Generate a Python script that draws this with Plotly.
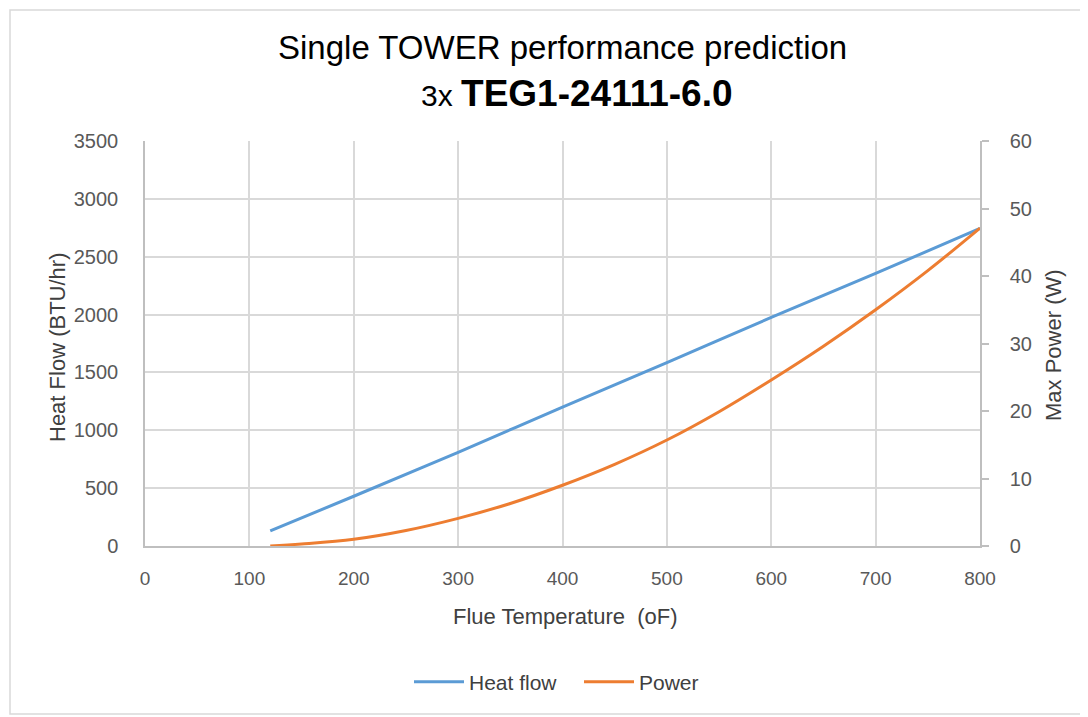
import plotly.graph_objects as go

temp_heat = [120, 200, 300, 400, 500, 600, 700, 800]
heat_flow = [130, 430, 810, 1200, 1585, 1975, 2355, 2745]

temp_power = [120, 150, 200, 250, 300, 350, 400, 450, 500, 550, 600, 650, 700, 750, 800]
power = [0, 0.3, 1.0, 2.3, 4.1, 6.3, 9.0, 12.1, 15.7, 19.9, 24.6, 29.6, 35.0, 40.8, 47.1]

FONT = "Liberation Sans"
TICK_COLOR = "#595959"
TITLE_COLOR = "#404040"

fig = go.Figure()
fig.add_trace(go.Scatter(x=temp_heat, y=heat_flow, name="Heat flow", mode="lines",
                         line=dict(color="#5B9BD5", width=3, shape="spline")))
fig.add_trace(go.Scatter(x=temp_power, y=power, name="Power", mode="lines", yaxis="y2",
                         line=dict(color="#ED7D31", width=3, shape="spline")))

W, H = 1088, 717
O = 8  # page offset of the figure
SL, SR, ST, SB = 145, 980, 141, 546
L = SL - O
T = ST - O
R = W - (SR - O)
B = H - (SB - O)
pw, ph = SR - SL, SB - ST

def px(xs):
    return (xs - SL) / pw

def py(ys):
    return (SB - ys) / ph

fig.update_layout(
    width=W, height=H,
    margin=dict(l=L, r=R, t=T, b=B),
    paper_bgcolor="white", plot_bgcolor="white",
    font=dict(family=FONT, color=TICK_COLOR, size=20),
    showlegend=True,
    legend=dict(orientation="h", x=px(409), xanchor="left", y=py(682), yanchor="middle",
                font=dict(size=21, color=TITLE_COLOR), itemwidth=50, tracegroupgap=0,
                entrywidth=105, entrywidthmode="pixels"),
    xaxis=dict(range=[0, 800], dtick=100, showgrid=True, gridcolor="#d9d9d9", gridwidth=1.5,
               showline=True, linecolor="#bfbfbf", linewidth=1.5, zeroline=False,
               ticks="", tickfont=dict(size=19, color=TICK_COLOR), ticklabelstandoff=14),
    yaxis=dict(range=[0, 3500], dtick=500, showgrid=True, gridcolor="#d9d9d9", gridwidth=1.5,
               showline=True, linecolor="#bfbfbf", linewidth=1.5, zeroline=False,
               ticks="", tickfont=dict(size=20, color=TICK_COLOR), ticklabelstandoff=21),
    yaxis2=dict(range=[0, 60], dtick=10, overlaying="y", side="right", showgrid=False,
                showline=True, linecolor="#bfbfbf", linewidth=1.5, zeroline=False,
                ticks="outside", ticklen=7, tickcolor="#bfbfbf", tickwidth=1.5,
                tickfont=dict(size=20, color=TICK_COLOR), ticklabelstandoff=17),
    annotations=[
        dict(text="Single TOWER performance prediction", xref="paper", yref="paper",
             x=px(562), y=py(47), xanchor="center", yanchor="middle", showarrow=False,
             font=dict(size=33, color="#000000", family=FONT)),
        dict(text="<span style='font-size:30px'>3x </span><b>TEG1-24111-6.0</b>", xref="paper", yref="paper",
             x=px(577), y=py(93), xanchor="center", yanchor="middle", showarrow=False,
             font=dict(size=37, color="#000000", family=FONT)),
        dict(text="Flue Temperature  (oF)", xref="paper", yref="paper",
             x=px(565), y=py(616), xanchor="center", yanchor="middle", showarrow=False,
             font=dict(size=22, color=TITLE_COLOR)),
        dict(text="Heat Flow (BTU/hr)", xref="paper", yref="paper",
             x=px(57), y=py(348), xanchor="center", yanchor="middle", showarrow=False,
             textangle=-90, font=dict(size=22, color=TITLE_COLOR)),
        dict(text="Max Power (W)", xref="paper", yref="paper",
             x=px(1053), y=py(345), xanchor="center", yanchor="middle", showarrow=False,
             textangle=-90, font=dict(size=22, color=TITLE_COLOR)),
    ],
    shapes=[
        dict(type="rect", xref="paper", yref="paper", x0=px(10), x1=px(1084), y0=py(714), y1=py(10),
             line=dict(color="#d9d9d9", width=1.5), fillcolor="rgba(0,0,0,0)", layer="below"),
    ],
)

fig.write_html("out.html")
